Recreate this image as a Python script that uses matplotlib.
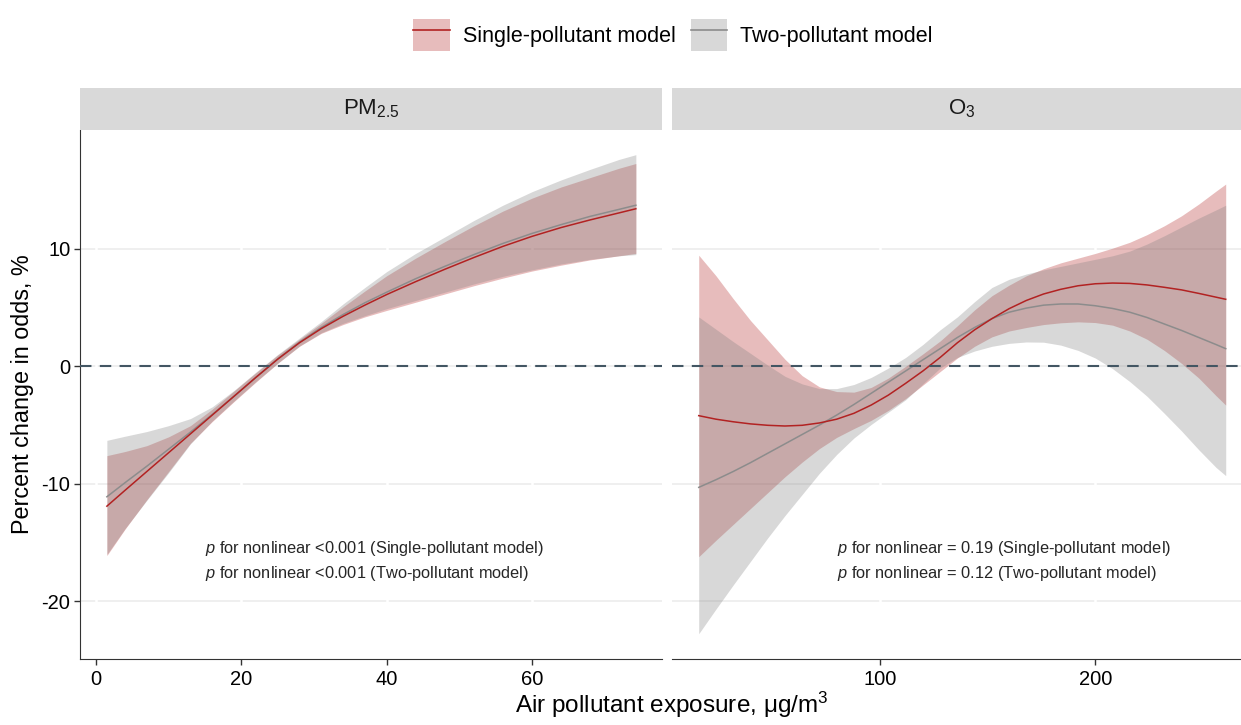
import numpy as np
import matplotlib.pyplot as plt
from matplotlib.patches import Patch
from matplotlib.lines import Line2D

plt.rcParams['font.family'] = ['Liberation Sans', 'DejaVu Sans']
plt.rcParams['mathtext.fontset'] = 'custom'
plt.rcParams['mathtext.rm'] = 'Liberation Sans'
plt.rcParams['mathtext.it'] = 'Liberation Sans:italic'
plt.rcParams['axes.unicode_minus'] = False

# PM2.5 panel
pm_x = [1.5, 4, 7, 10, 13, 16, 19, 22, 25, 28, 31, 34, 37, 40, 44, 48, 52, 56, 60, 64, 68, 72, 74.3]
pm_single = [-11.9, -10.55, -8.95, -7.35, -5.75, -4.15, -2.55, -0.95, 0.6, 2.0, 3.2, 4.25, 5.2,
             6.1, 7.2, 8.25, 9.25, 10.2, 11.05, 11.8, 12.45, 13.05, 13.4]
pm_single_hi = [-7.6, -7.25, -6.75, -6.0, -5.05, -3.65, -2.1, -0.55, 0.95, 2.3, 3.65, 5.05, 6.4,
                7.7, 9.2, 10.6, 11.95, 13.2, 14.3, 15.25, 16.05, 16.85, 17.25]
pm_single_lo = [-16.1, -13.85, -11.35, -8.95, -6.55, -4.7, -3.0, -1.35, 0.25, 1.7, 2.8, 3.55, 4.2,
                4.75, 5.45, 6.15, 6.85, 7.5, 8.1, 8.6, 9.05, 9.4, 9.6]
pm_two = [-11.1, -9.9, -8.5, -7.05, -5.6, -4.1, -2.55, -0.95, 0.62, 2.05, 3.3, 4.4, 5.4,
          6.3, 7.45, 8.5, 9.5, 10.45, 11.3, 12.05, 12.75, 13.35, 13.7]
pm_two_hi = [-6.3, -5.95, -5.55, -5.05, -4.45, -3.45, -2.05, -0.5, 1.0, 2.4, 3.8, 5.3, 6.7,
             8.05, 9.6, 11.0, 12.4, 13.7, 14.85, 15.85, 16.75, 17.6, 18.0]
pm_two_lo = [-16.0, -13.8, -11.4, -9.05, -6.6, -4.65, -2.95, -1.3, 0.25, 1.72, 2.85, 3.65, 4.3,
             4.9, 5.6, 6.3, 7.0, 7.65, 8.2, 8.7, 9.1, 9.4, 9.5]

# O3 panel
o3_x = [16, 24, 32, 40, 48, 56, 64, 72, 80, 88, 96, 104, 112, 120, 128, 136,
        144, 152, 160, 168, 176, 184, 192, 200, 208, 216, 224, 232, 240, 248, 256, 260.5]
o3_single = [-4.2, -4.5, -4.72, -4.9, -5.02, -5.08, -5.02, -4.82, -4.5, -4.0, -3.3, -2.45, -1.45, -0.4, 0.75, 2.0,
             3.1, 4.05, 4.9, 5.6, 6.15, 6.55, 6.85, 7.02, 7.08, 7.05, 6.92, 6.72, 6.5, 6.2, 5.88, 5.7]
o3_single_hi = [9.45, 7.7, 5.75, 3.9, 2.25, 0.6, -0.8, -1.75, -2.15, -2.2, -1.8, -1.0, 0.0, 1.05, 2.15, 3.45,
                4.8, 6.0, 6.9, 7.7, 8.3, 8.8, 9.2, 9.6, 10.05, 10.55, 11.2, 11.95, 12.8, 13.8, 14.9, 15.5]
o3_single_lo = [-16.2, -14.8, -13.45, -12.1, -10.75, -9.4, -8.15, -7.0, -6.05, -5.3, -4.6, -3.75, -2.75, -1.6, -0.45, 0.7,
                1.7, 2.5, 3.0, 3.3, 3.55, 3.7, 3.78, 3.72, 3.5, 3.0, 2.3, 1.35, 0.25, -1.0, -2.5, -3.3]
o3_two = [-10.3, -9.65, -8.95, -8.2, -7.4, -6.6, -5.8, -5.0, -4.15, -3.25, -2.3, -1.35, -0.4, 0.55, 1.5, 2.45,
          3.3, 4.05, 4.6, 4.95, 5.2, 5.3, 5.3, 5.15, 4.92, 4.6, 4.15, 3.6, 3.05, 2.45, 1.85, 1.5]
o3_two_hi = [4.2, 3.15, 2.1, 1.1, 0.1, -0.85, -1.5, -1.9, -1.9, -1.55, -0.95, -0.15, 0.75, 1.85, 3.1, 4.2,
             5.5, 6.7, 7.4, 7.85, 8.2, 8.5, 8.8, 9.1, 9.4, 9.8, 10.4, 11.1, 11.85, 12.6, 13.3, 13.7]
o3_two_lo = [-22.75, -20.65, -18.6, -16.6, -14.6, -12.7, -10.9, -9.1, -7.5, -6.1, -4.95, -3.9, -2.85, -1.5, -0.15, 0.75,
             1.3, 1.7, 1.95, 2.07, 2.05, 1.8, 1.35, 0.7, -0.2, -1.3, -2.55, -4.0, -5.5, -7.1, -8.6, -9.3]

panel_titles = ["PM$_{2.5}$", "O$_3$"]
pm_xticks = [0, 20, 40, 60]
o3_xticks = [100, 200]
yticks = [-20, -10, 0, 10]
notes_pm = ["$\\it{p}$ for nonlinear <0.001 (Single-pollutant model)",
            "$\\it{p}$ for nonlinear <0.001 (Two-pollutant model)"]
notes_o3 = ["$\\it{p}$ for nonlinear = 0.19 (Single-pollutant model)",
            "$\\it{p}$ for nonlinear = 0.12 (Two-pollutant model)"]

red = '#B22222'
grey_fill = '#7F7F7F'
grey_line = '#8C8C8C'

W, H = 1241, 725
fig = plt.figure(figsize=(W / 100, H / 100), dpi=100)


def box(x0, y0, x1, y1):
    return [x0 / W, 1 - y1 / H, (x1 - x0) / W, (y1 - y0) / H]


ax1 = fig.add_axes(box(80, 130, 662, 659))
ax2 = fig.add_axes(box(672, 130, 1252, 659))


def draw_panel(ax, x, s, s_lo, s_hi, t, t_lo, t_hi, xticks, notes, note_x):
    ax.set_axisbelow(True)
    ax.fill_between(x, s_lo, s_hi, color=red, alpha=0.3, lw=0, zorder=2)
    ax.fill_between(x, t_lo, t_hi, color=grey_fill, alpha=0.3, lw=0, zorder=2)
    ax.plot(x, t, color=grey_line, lw=1.1, zorder=3)
    ax.plot(x, s, color=red, lw=1.1, zorder=4)
    ax.axhline(0, color='#435663', lw=1.5, dashes=(5.5, 4), zorder=5)
    for yv in yticks:
        ax.axhline(yv, color='#EEEEEE', lw=1.3, zorder=0.5)
    for xv in xticks:
        ax.axvline(xv, color='white', lw=1.8, zorder=0.6)
    ax.set_ylim(-24.9, 20.1)
    ax.set_xticks(xticks)
    ax.tick_params(axis='x', labelsize=14.5, length=4, width=1, color='#333333', pad=4)
    ax.text(note_x, -15.5, notes[0], fontsize=11.8, color='#262626', va='center', ha='left')
    ax.text(note_x, -17.6, notes[1], fontsize=11.8, color='#262626', va='center', ha='left')
    for sp in ['top', 'right']:
        ax.spines[sp].set_visible(False)
    ax.spines['bottom'].set_color('#333333')
    ax.spines['left'].set_color('#333333')


draw_panel(ax1, pm_x, pm_single, pm_single_lo, pm_single_hi,
           pm_two, pm_two_lo, pm_two_hi, pm_xticks, notes_pm, 15)
ax1.set_xlim(-2.2, 77.9)
ax1.set_yticks(yticks)
ax1.tick_params(axis='y', labelsize=14.5, length=4, width=1, color='#333333', pad=3)
ax1.set_ylabel("Percent change in odds, %", fontsize=16.8, labelpad=5)

draw_panel(ax2, o3_x, o3_single, o3_single_lo, o3_single_hi,
           o3_two, o3_two_lo, o3_two_hi, o3_xticks, notes_o3, 80)
ax2.set_xlim(3.6, 272.7)
ax2.set_yticks([])
ax2.spines['left'].set_visible(False)

# facet strips
for (x0, x1), title in zip([(80, 662), (672, 1252)], panel_titles):
    st = fig.add_axes(box(x0, 88, x1, 130))
    st.set_facecolor('#D9D9D9')
    st.set_xticks([])
    st.set_yticks([])
    for sp in st.spines.values():
        sp.set_visible(False)
    st.text(0.5, 0.5, title, fontsize=16, color='#1A1A1A', ha='center', va='center',
            transform=st.transAxes)

fig.text(672 / W, 1 - 705 / H, "Air pollutant exposure, $\\mathrm{\\mu}$g/m$^3$",
         fontsize=17.5, ha='center', va='center')

handles = [(Patch(facecolor=red, alpha=0.3, edgecolor='none'), Line2D([], [], color=red, lw=1.2)),
           (Patch(facecolor=grey_fill, alpha=0.3, edgecolor='none'), Line2D([], [], color=grey_line, lw=1.2))]
fig.legend(handles, ["Single-pollutant model", "Two-pollutant model"], loc='center',
           bbox_to_anchor=(673 / W, 1 - 35 / H), ncol=2, frameon=False, fontsize=15.5,
           handlelength=1.7, handleheight=1.9, handletextpad=0.6, columnspacing=0.7)

fig.savefig('out.png', dpi=100)
